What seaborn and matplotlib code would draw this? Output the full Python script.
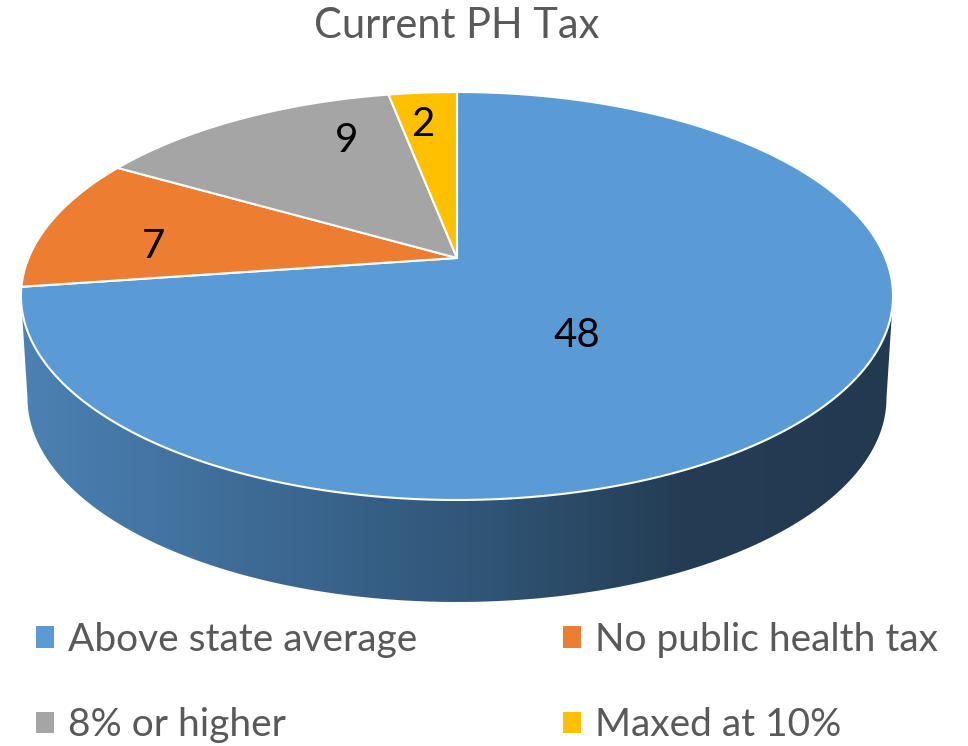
import numpy as np
import matplotlib
matplotlib.use("Agg")
import matplotlib.pyplot as plt
import seaborn as sns
from matplotlib.patches import Polygon, Patch
from matplotlib.colors import LinearSegmentedColormap

# data
categories = ["Above state average", "No public health tax", "8% or higher", "Maxed at 10%"]
counts = [48, 7, 9, 2]
slice_colors = ["#5B9BD5", "#ED7D31", "#A5A5A5", "#FFC000"]
title = "Current PH Tax"

# where each count label sits on the disc: (angle from top, clockwise, deg; radius fraction)
label_spots = [(144.7, 0.45), (274.9, 0.72), (336.6, 0.73), (353.3, 0.78)]

sns.set_theme(style="white")
plt.rcParams["font.family"] = ["Lato", "DejaVu Sans"]

# perspective disc -> pixel mapping (canvas is in pixel units)
cx, cy = 457, 258       # pie vertex on screen
a, b, k = 428.4, 196.9, 0.1863
drop, shrink = 102, 0.985


def project(theta_deg, r=1.0, low=False):
    th = np.radians(theta_deg)
    X = r * np.sin(th)
    Z = r * np.cos(th)
    w = 1 + k * Z
    x = cx + a * X / w
    y = cy - b * Z / w
    if low:
        x = cx + (x - cx) * shrink
        y = y + drop
    return x, y


fig = plt.figure(figsize=(9.68, 7.46), dpi=100)
ax = fig.add_axes([0, 0, 1, 1])
ax.set_xlim(0, 968)
ax.set_ylim(746, 0)
ax.axis("off")

# side wall (only the front, which belongs to the big slice)
th_edge = np.degrees(np.arccos(-k))          # silhouette tangent angle
front = np.linspace(th_edge, 360 - th_edge, 300)
tx, ty = project(front)
bx, by = project(front[::-1], low=True)
wall = Polygon(np.column_stack([np.r_[tx, bx], np.r_[ty, by]]),
               closed=True, facecolor="none", edgecolor="none")
ax.add_patch(wall)
wall_cmap = LinearSegmentedColormap.from_list(
    "wall", [(0.0, "#4C82B4"), (0.3, "#3C6892"), (0.55, "#2F5373"),
             (0.75, "#243D55"), (1.0, "#223A50")])
grad = np.linspace(0, 1, 512)[None, :]
img = ax.imshow(grad, cmap=wall_cmap, aspect="auto",
                extent=(15, 900, 746, 0), zorder=1)
img.set_clip_path(wall)

# top face slices
total = sum(counts)
start = 0.0
for val, col in zip(counts, slice_colors):
    span = val / total * 360
    th = np.linspace(start, start + span, max(int(span * 2), 4))
    px, py = project(th)
    pts = np.column_stack([np.r_[cx, px], np.r_[cy, py]])
    ax.add_patch(Polygon(pts, closed=True, facecolor=col,
                         edgecolor="white", linewidth=1.5, zorder=2))
    start += span

# count labels
for val, (ang, rad) in zip(counts, label_spots):
    lx, ly = project(ang, rad)
    ax.text(lx, ly, str(val), ha="center", va="center",
            fontsize=29, color="black", zorder=3)

ax.text(457, 26, title, ha="center", va="center", fontsize=30, color="#595959")

# legend, filled row by row like the original
order = [0, 2, 1, 3]
handles = [Patch(facecolor=slice_colors[i], edgecolor="none") for i in order]
labels = [categories[i] for i in order]
ax.legend(handles, labels, ncol=2, loc="upper left",
          bbox_to_anchor=(36, 622), bbox_transform=ax.transData,
          frameon=False, fontsize=28, labelcolor="#595959",
          handlelength=0.47, handleheight=0.47, handletextpad=0.35,
          columnspacing=3.75, labelspacing=1.27,
          borderpad=0, borderaxespad=0)

fig.savefig("out.png", dpi=100)
